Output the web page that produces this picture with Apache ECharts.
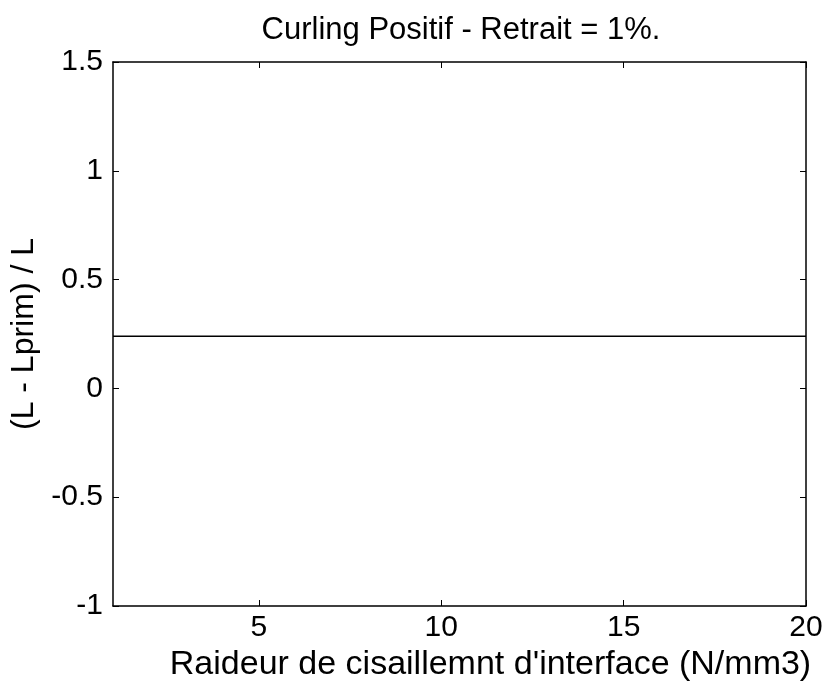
<!DOCTYPE html>
<html>
<head>
<meta charset="utf-8">
<script src="https://cdn.jsdelivr.net/npm/echarts@6/dist/echarts.min.js"></script>
<style>
  html, body { margin: 0; padding: 0; background: #fff; }
  #chart { width: 826px; height: 688px; }
</style>
</head>
<body>
<div id="chart"></div>
<script>
// raideur de cisaillement (N/mm3) et rapport (L - Lprim) / L
const stiffness = [1, 2, 3, 4, 5, 6, 7, 8, 9, 10, 11, 12, 13, 14, 15, 16, 17, 18, 19, 20];
const ratio = [0.24, 0.24, 0.24, 0.24, 0.24, 0.24, 0.24, 0.24, 0.24, 0.24,
               0.24, 0.24, 0.24, 0.24, 0.24, 0.24, 0.24, 0.24, 0.24, 0.24];
const xTicks = [5, 10, 15, 20];
const yTicks = [-1, -0.5, 0, 0.5, 1, 1.5];

const font = '"Liberation Sans", Arial, sans-serif';

const chart = echarts.init(document.getElementById('chart'));

const baseX = {
  type: 'value',
  min: 1,
  max: 20,
  axisLine: { show: true, onZero: false, lineStyle: { color: '#000', width: 1.5 } },
  axisTick: { inside: true, length: 6, customValues: xTicks, lineStyle: { color: '#000' } },
  splitLine: { show: false }
};
const baseY = {
  type: 'value',
  min: -1,
  max: 1.5,
  interval: 0.5,
  axisLine: { show: true, onZero: false, lineStyle: { color: '#000', width: 1.5 } },
  axisTick: { inside: true, length: 6, customValues: yTicks, lineStyle: { color: '#000' } },
  splitLine: { show: false }
};

chart.setOption({
  animation: false,
  backgroundColor: '#fff',
  title: {
    text: 'Curling Positif - Retrait = 1%.',
    left: 456,
    top: 10,
    textAlign: 'center',
    textStyle: { fontFamily: font, fontSize: 31, fontWeight: 'normal', color: '#000' }
  },
  grid: { left: 113, right: 20, top: 62, bottom: 82 },
  xAxis: [
    Object.assign({}, baseX, {
      position: 'bottom',
      name: "Raideur de cisaillemnt d'interface (N/mm3)",
      nameLocation: 'middle',
      nameGap: 42,
      nameTextStyle: { fontFamily: font, fontSize: 34, color: '#000', padding: [0, 0, 0, 62] },
      axisLabel: {
        customValues: xTicks,
        margin: 7,
        fontFamily: font, fontSize: 30, color: '#000'
      }
    }),
    Object.assign({}, baseX, { position: 'top', axisLabel: { show: false } })
  ],
  yAxis: [
    Object.assign({}, baseY, {
      position: 'left',
      name: '(L - Lprim) / L',
      nameLocation: 'middle',
      nameGap: 72,
      nameTextStyle: { fontFamily: font, fontSize: 32, color: '#000' },
      axisLabel: {
        margin: 10,
        fontFamily: font, fontSize: 30, color: '#000'
      }
    }),
    Object.assign({}, baseY, { position: 'right', axisLabel: { show: false } })
  ],
  series: [
    {
      type: 'line',
      data: stiffness.map((x, i) => [x, ratio[i]]),
      showSymbol: false,
      lineStyle: { color: '#000', width: 1.5 }
    }
  ]
});
</script>
</body>
</html>
